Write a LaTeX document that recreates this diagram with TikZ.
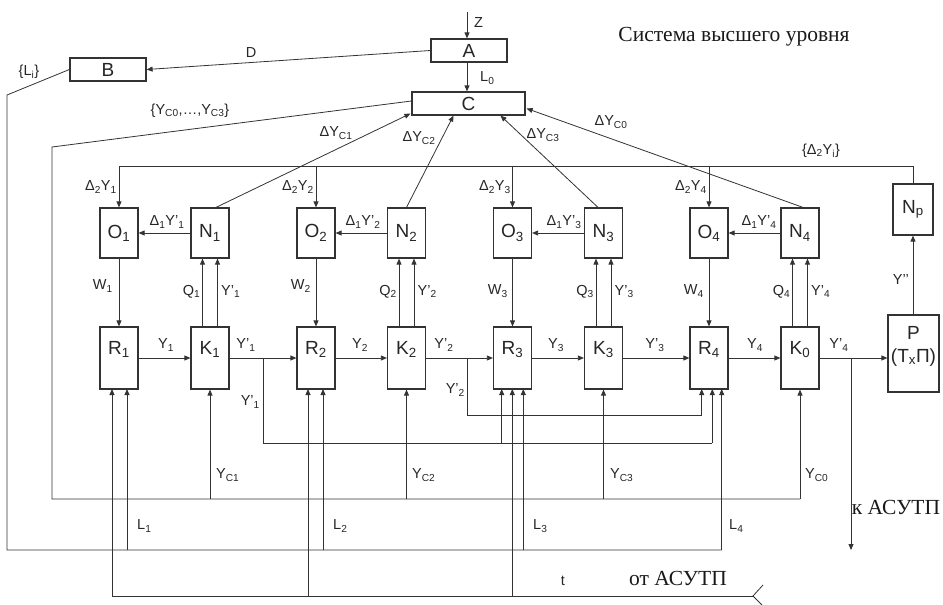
\documentclass[tikz,border=0pt]{standalone}
\usepackage{fontspec}
\setmainfont{Liberation Sans}
\newfontfamily\serifru{Liberation Serif}
\usetikzlibrary{arrows.meta,calc}
\begin{document}
\begin{tikzpicture}[x=1pt,y=-1pt,
  box/.style={draw=black!80, line width=1.2pt, fill=white, inner sep=0pt, text=black!85, font=\fontsize{19}{21}\selectfont},
  ob/.style={box, minimum width=38pt, minimum height=50pt},
  rb/.style={box, minimum width=38pt, minimum height=62pt, text depth=20pt},
  wb/.style={box, minimum width=76pt, minimum height=23pt},
  ln/.style={draw=black!80, line width=0.8pt},
  arr/.style={ln, -{Triangle[length=6pt,width=5pt]}},
  lbl/.style={font=\fontsize{14.5}{16}\selectfont, inner sep=0pt, text=black!85},
  ru/.style={font=\serifru\fontsize{21.5}{24}\selectfont, inner sep=0pt, text=black!90},
]
\useasboundingbox (0,0) rectangle (943,605);

% ---------- boxes ----------
\node[wb] (A) at (469,50.5) {A};
\node[wb] (B) at (108,69.5) {B};
\node[box, minimum width=113pt, minimum height=23pt] (C) at (468.5,103.5) {C};

\node[ob] (O1) at (119,233) {O\textsubscript{1}};
\node[ob] (N1) at (210,233) {N\textsubscript{1}};
\node[ob] (O2) at (316,233) {O\textsubscript{2}};
\node[ob] (N2) at (406.5,233) {N\textsubscript{2}};
\node[ob] (O3) at (512.5,233) {O\textsubscript{3}};
\node[ob] (N3) at (603.5,233) {N\textsubscript{3}};
\node[ob] (O4) at (709,233) {O\textsubscript{4}};
\node[ob] (N4) at (800,233) {N\textsubscript{4}};

\node[rb] (R1) at (119,358) {R\textsubscript{1}};
\node[rb] (K1) at (210,358) {K\textsubscript{1}};
\node[rb] (R2) at (316,358) {R\textsubscript{2}};
\node[rb] (K2) at (406.5,358) {K\textsubscript{2}};
\node[rb] (R3) at (512.5,358) {R\textsubscript{3}};
\node[rb] (K3) at (603.5,358) {K\textsubscript{3}};
\node[rb] (R4) at (709,358) {R\textsubscript{4}};
\node[rb] (K0) at (800,358) {K\textsubscript{0}};

\node[box, minimum width=40pt, minimum height=51pt] (Np) at (913,209.5) {N\textsubscript{p}};
\node[box, minimum width=51pt, minimum height=77pt] (P) at (913.5,353.5) {};
\node[box, draw=none, fill=none, align=center, font=\fontsize{19}{23}\selectfont] (Ptxt) at (913.5,346) {P\\(Т\textsubscript{х}П)};

% ---------- title and outer texts ----------
\node[ru] (title) at (734,37) {Система высшего уровня};
\node[ru] (kasutp) at (896,507) {к АСУТП};
\node[ru] (otasutp) at (678,578) {от АСУТП};

% ---------- top part ----------
\coordinate (zin) at (467,12);
\draw[arr] (zin) -- (zin |- A.north);
\node[lbl, anchor=west] at (474,23) {Z};
\draw[arr] (A.south -| zin) -- (C.north -| zin);
\node[lbl, anchor=west] at (480,78) {L\textsubscript{0}};
\draw[arr] (A.west) -- (B.east);
\node[lbl] at (251,53) {D};

% B -> L bus
\coordinate (lb1) at (7,95);
\coordinate (lb2) at (7,550);
\coordinate (lb3) at (721.7,550);
\draw[ln] (B.west) -- (lb1) -- (lb2) -- (lb3);
\node[lbl] at (29,72) {\{L\textsubscript{i}\}};

% C -> Yc bus
\coordinate (cb1) at (52,147);
\coordinate (cb2) at (52,499);
\coordinate (cb3) at (800,499);
\draw[ln] ($(C.west)+(0,-2.5)$) -- (cb1) -- (cb2) -- (cb3);
\node[lbl] at (190,111) {\{Y\textsubscript{C0},…,Y\textsubscript{C3}\}};

% N -> C
\draw[arr] ($(N1.north)+(6,0)$) -- ($(C.south west)+(-1,-2)$);
\draw[arr] (N2.north) -- ($(C.south)+(-15,0)$);
\draw[arr] ($(N3.north)+(-5.5,0)$) -- ($(C.south)+(32,0)$);
\draw[arr] ($(N4.north)+(3,0)$) -- ($(C.east)+(1,5)$);
\node[lbl] at (336,133) {ΔY\textsubscript{C1}};
\node[lbl] at (419,138) {ΔY\textsubscript{C2}};
\node[lbl] at (543,135) {ΔY\textsubscript{C3}};
\node[lbl] at (611,122) {ΔY\textsubscript{C0}};

% Delta2 bus from Np
\coordinate (db1) at (913,166);
\coordinate (db2) at (119,166);
\draw[ln] (Np.north) -- (db1) -- (db2);
\draw[arr] (O1.north |- db2) -- (O1.north);
\draw[arr] (O2.north |- db2) -- (O2.north);
\draw[arr] (O3.north |- db2) -- (O3.north);
\draw[arr] (O4.north |- db2) -- (O4.north);
\node[lbl] at (821,151) {\{Δ\textsubscript{2}Y\textsubscript{i}\}};
\node[lbl, anchor=east] at (117,187) {Δ\textsubscript{2}Y\textsubscript{1}};
\node[lbl, anchor=east] at (314,187) {Δ\textsubscript{2}Y\textsubscript{2}};
\node[lbl, anchor=east] at (511,187) {Δ\textsubscript{2}Y\textsubscript{3}};
\node[lbl, anchor=east] at (707,187) {Δ\textsubscript{2}Y\textsubscript{4}};

% N -> O
\draw[arr] (N1.west) -- (O1.east);
\draw[arr] (N2.west) -- (O2.east);
\draw[arr] (N3.west) -- (O3.east);
\draw[arr] (N4.west) -- (O4.east);
\node[lbl] at (167,222) {Δ\textsubscript{1}Y’\textsubscript{1}};
\node[lbl] at (363,222) {Δ\textsubscript{1}Y’\textsubscript{2}};
\node[lbl] at (564,222) {Δ\textsubscript{1}Y’\textsubscript{3}};
\node[lbl] at (759,222) {Δ\textsubscript{1}Y’\textsubscript{4}};

% O -> R
\draw[arr] (O1) -- (R1);
\draw[arr] (O2) -- (R2);
\draw[arr] (O3) -- (R3);
\draw[arr] (O4) -- (R4);
\node[lbl, anchor=east] at (113,286) {W\textsubscript{1}};
\node[lbl, anchor=east] at (311,286) {W\textsubscript{2}};
\node[lbl, anchor=east] at (508,291) {W\textsubscript{3}};
\node[lbl, anchor=east] at (704,291) {W\textsubscript{4}};

% K -> N (double)
\foreach \k/\n/\i in {K1/N1/1, K2/N2/2, K3/N3/3, K0/N4/4}{
  \draw[arr] ($(\k.north)+(-7.5,0)$) -- ($(\n.south)+(-7.5,0)$);
  \draw[arr] ($(\k.north)+(7.5,0)$) -- ($(\n.south)+(7.5,0)$);
  \node[lbl, anchor=east] at ($(\k.north)+(-9.5,-35)$) {Q\textsubscript{\i}};
  \node[lbl, anchor=west] at ($(\k.north)+(11,-35)$) {Y’\textsubscript{\i}};
}

% main chain
\draw[arr] (R1) -- (K1);
\draw[arr] (K1) -- (R2);
\draw[arr] (R2) -- (K2);
\draw[arr] (K2) -- (R3);
\draw[arr] (R3) -- (K3);
\draw[arr] (K3) -- (R4);
\draw[arr] (R4) -- (K0);
\draw[arr] (K0.east) -- (K0.east -| P.west);
\node[lbl] at (166,345) {Y\textsubscript{1}};
\node[lbl] at (246,345) {Y’\textsubscript{1}};
\node[lbl] at (360,345) {Y\textsubscript{2}};
\node[lbl] at (444,345) {Y’\textsubscript{2}};
\node[lbl] at (556,345) {Y\textsubscript{3}};
\node[lbl] at (655,345) {Y’\textsubscript{3}};
\node[lbl] at (755,345) {Y\textsubscript{4}};
\node[lbl] at (839,345) {Y’\textsubscript{4}};

% P -> Np
\draw[arr] (P.north -| Np.south) -- (Np.south);
\node[lbl, anchor=east] at (909,280) {Y’’};

% output to ASUTP
\coordinate (yo) at (851,358);
\coordinate (yo2) at (851,550);
\draw[arr] (yo) -- (yo2);

% Y'1 branch
\coordinate (b1) at (263,358);
\coordinate (b1d) at (263,443);
\draw[ln] (b1) -- (b1d) -- (712.3,443);
\draw[arr] (501.7,443) -- (501.7,389);
\draw[arr] (712.3,443) -- (712.3,389);
\node[lbl, anchor=east] at (260,402) {Y’\textsubscript{1}};

% Y'2 branch
\coordinate (b2) at (467,358);
\coordinate (b2d) at (467,415);
\draw[ln] (b2) -- (b2d) -- (701.7,415);
\draw[arr] (701.7,415) -- (701.7,389);
\node[lbl, anchor=east] at (465,390) {Y’\textsubscript{2}};

% Yc verticals
\draw[arr] (K1.south |- cb2) -- (K1.south);
\draw[arr] (K2.south |- cb2) -- (K2.south);
\draw[arr] (K3.south |- cb2) -- (K3.south);
\draw[arr] (cb3) -- (K0.south);
\node[lbl, anchor=west] at (216,475) {Y\textsubscript{C1}};
\node[lbl, anchor=west] at (412,475) {Y\textsubscript{C2}};
\node[lbl, anchor=west] at (610,475) {Y\textsubscript{C3}};
\node[lbl, anchor=west] at (805,475) {Y\textsubscript{C0}};

% L verticals
\draw[arr] (127,550) -- (127,389);
\draw[arr] (323,550) -- (323,389);
\draw[arr] (523.3,550) -- (523.3,389);
\draw[arr] (lb3) -- (721.7,389);
\node[lbl, anchor=west] at (137,526) {L\textsubscript{1}};
\node[lbl, anchor=west] at (333,526) {L\textsubscript{2}};
\node[lbl, anchor=west] at (533,526) {L\textsubscript{3}};
\node[lbl, anchor=west] at (729,526) {L\textsubscript{4}};

% t line from ASUTP
\coordinate (tin) at (753,596);
\coordinate (tl) at (112,596);
\draw[ln] (763,585) -- (tin) -- (763,606);
\draw[ln] (tin) -- (tl);
\draw[arr] (tl) -- (112,389);
\draw[arr] (308,596) -- (308,389);
\draw[arr] (512.3,596) -- (512.3,389);
\node[lbl] at (563,581) {t};
\end{tikzpicture}
\end{document}
